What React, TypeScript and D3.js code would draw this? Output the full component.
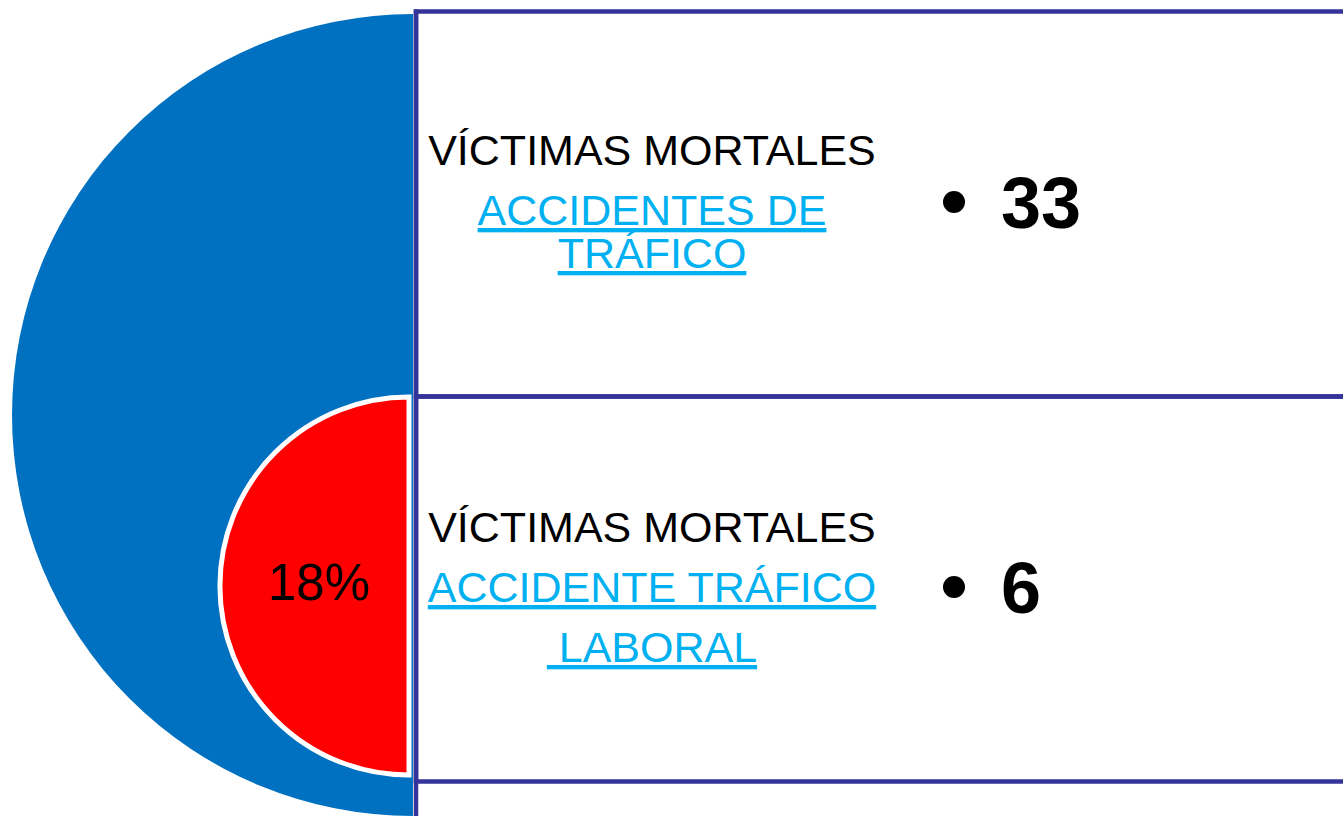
import * as d3 from "d3";

// Data
const categories = ["trafico", "laboral"];
const values = [33, 6];
const titleLines = ["VÍCTIMAS MORTALES", "VÍCTIMAS MORTALES"];
const linkLines = [
  ["ACCIDENTES DE", "TRÁFICO"],
  ["ACCIDENTE TRÁFICO", " LABORAL"],
];
const pctLabel = `${Math.round((values[1] / values[0]) * 100)}%`;

const W = 1343;
const H = 816;
const BLUE = "#0070c0";
const RED = "#ff0000";
const NAVY = "#333399";
const CYAN = "#00b0f0";
const FONT = "'Liberation Sans', Arial, sans-serif";

export default function App() {
  // rows of the table on the right
  const y = d3.scaleBand<string>().domain(categories).range([11.5, 781.5]);
  const boxX = 416;
  const band = y.bandwidth();

  const halfArc = d3
    .arc<any>()
    .innerRadius(0)
    .startAngle(Math.PI)
    .endAngle(Math.PI * 2);

  const outerR = 401;
  const innerR = 189;

  // line offsets (from top of the row) for the text block
  const lineDy = [
    [153.5, 213.5, 256.5],
    [145.5, 205.5, 265.5],
  ];

  return (
    <svg
      width={W}
      height={H}
      style={{ position: "absolute", left: 0, top: 0, background: "#fff" }}
      fontFamily={FONT}
    >
      <path
        d={halfArc({ outerRadius: outerR }) as string}
        transform="translate(413,415)"
        fill={BLUE}
      />
      <path
        d={halfArc({ outerRadius: innerR }) as string}
        transform="translate(409,586)"
        fill={RED}
        stroke="#fff"
        strokeWidth={5}
      />
      <text x={319} y={600} textAnchor="middle" fontSize={51} fill="#000">
        {pctLabel}
      </text>

      {categories.map((c, i) => {
        const top = y(c) ?? 0;
        return (
          <g key={c}>
            <rect
              x={boxX}
              y={top}
              width={W - boxX + 10}
              height={band}
              fill="none"
              stroke={NAVY}
              strokeWidth={4.5}
            />
            <text x={652} y={top + lineDy[i][0]} textAnchor="middle" fontSize={43} fill="#000">
              {titleLines[i]}
            </text>
            {linkLines[i].map((l, j) => (
              <text
                key={j}
                x={652}
                y={top + lineDy[i][j + 1]}
                textAnchor="middle"
                fontSize={43}
                fill={CYAN}
                textDecoration="underline"
                style={{ whiteSpace: "pre" }}
              >
                {l}
              </text>
            ))}
            <circle cx={954} cy={top + 190.5} r={11} fill="#000" />
            <text x={1001} y={top + 216.5} fontSize={72} fontWeight="bold" fill="#000">
              {values[i]}
            </text>
          </g>
        );
      })}
      <line x1={boxX} x2={boxX} y1={9.5} y2={H} stroke={NAVY} strokeWidth={4.5} />
    </svg>
  );
}
